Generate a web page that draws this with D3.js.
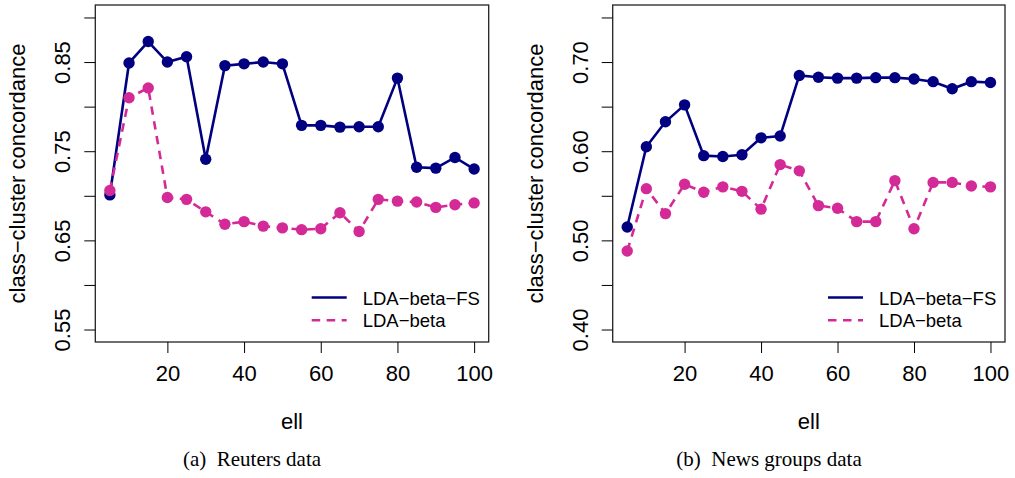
<!DOCTYPE html>
<html>
<head>
<meta charset="utf-8">
<script src="https://cdn.jsdelivr.net/npm/d3@7"></script>
<style>
  body { margin: 0; background: #fff; }
  text { font-family: "Liberation Sans", Arial, Helvetica, sans-serif; fill: #000; }
  .caption { font-family: "Liberation Serif", "Times New Roman", serif; }
</style>
</head>
<body>
<script>
var svgWidth = 1015;
var svgHeight = 478;

// ell values (x axis)
var ellValues = [5, 10, 15, 20, 25, 30, 35, 40, 45, 50, 55, 60, 65, 70, 75, 80, 85, 90, 95, 100];

// Reuters data
var reutersFS   = [0.701, 0.849, 0.873, 0.850, 0.856, 0.741, 0.846, 0.848, 0.850, 0.848,
                   0.779, 0.779, 0.777, 0.7775, 0.7775, 0.832, 0.732, 0.731, 0.743, 0.730];
var reutersBeta = [0.706, 0.810, 0.821, 0.698, 0.696, 0.682, 0.668, 0.671, 0.666, 0.664,
                   0.662, 0.663, 0.681, 0.660, 0.696, 0.694, 0.693, 0.687, 0.690, 0.692];

// News groups data
var newsFS   = [0.515, 0.605, 0.633, 0.652, 0.595, 0.594, 0.596, 0.615, 0.617, 0.685,
                0.683, 0.682, 0.682, 0.6825, 0.6825, 0.681, 0.678, 0.670, 0.678, 0.677];
var newsBeta = [0.488, 0.558, 0.530, 0.563, 0.554, 0.560, 0.555, 0.535, 0.585, 0.578,
                0.539, 0.536, 0.521, 0.521, 0.567, 0.513, 0.565, 0.565, 0.561, 0.560];

// ticks
var xTicks = [20, 40, 60, 80, 100];
var reutersYTicks = [0.55, 0.60, 0.65, 0.70, 0.75, 0.80, 0.85, 0.90];
var reutersYLabels = [0.55, 0.65, 0.75, 0.85];
var newsYTicks = [0.40, 0.45, 0.50, 0.55, 0.60, 0.65, 0.70, 0.75];
var newsYLabels = [0.40, 0.50, 0.60, 0.70];

var seriesNames = ["LDA\u2212beta\u2212FS", "LDA\u2212beta"];
var captions = ["(a)  Reuters data", "(b)  News groups data"];

var colorFS = "#000080";
var colorBeta = "#D42A98";

var svg = d3.select("body").append("svg")
    .attr("width", svgWidth)
    .attr("height", svgHeight);

var panels = [
    { left: 95.3, right: 488.7, fs: reutersFS, beta: reutersBeta, yDomain: [0.55, 0.90],
      yTicks: reutersYTicks, yLabels: reutersYLabels, caption: captions[0], captionX: 252 },
    { left: 612.7, right: 1005, fs: newsFS, beta: newsBeta, yDomain: [0.40, 0.75],
      yTicks: newsYTicks, yLabels: newsYLabels, caption: captions[1], captionX: 769 }
];

var plotTop = 5, plotBottom = 342;

// R style 4% axis extension
function extend(domain) {
    var pad = (domain[1] - domain[0]) * 0.04;
    return [domain[0] - pad, domain[1] + pad];
}

panels.forEach(function(p) {
    var g = svg.append("g");

    var x = d3.scaleLinear().domain(extend(d3.extent(ellValues))).range([p.left, p.right]);
    var y = d3.scaleLinear().domain(extend(p.yDomain)).range([plotBottom, plotTop]);

    // box
    g.append("rect")
        .attr("x", p.left).attr("y", plotTop)
        .attr("width", p.right - p.left).attr("height", plotBottom - plotTop)
        .attr("fill", "none").attr("stroke", "#222").attr("stroke-width", 1.3);

    // x axis
    var xAxis = d3.axisBottom(x).tickValues(xTicks).tickSize(11).tickPadding(7)
        .tickFormat(d3.format("d"));
    var gx = g.append("g").attr("transform", "translate(0," + plotBottom + ")").call(xAxis);
    gx.select(".domain").remove();
    gx.selectAll("line").attr("stroke", "#000").attr("stroke-width", 1);
    gx.selectAll("text").attr("font-size", 22)
        .attr("font-family", "Liberation Sans, Arial, sans-serif")
        .attr("dy", null).attr("y", 39);

    // y axis ticks
    var yAxis = d3.axisLeft(y).tickValues(p.yTicks).tickSize(11)
        .tickFormat(function(d) {
            return p.yLabels.some(function(v) { return Math.abs(v - d) < 1e-9; }) ? d3.format(".2f")(d) : "";
        });
    var gy = g.append("g").attr("transform", "translate(" + p.left + ",0)").call(yAxis);
    gy.select(".domain").remove();
    gy.selectAll("line").attr("stroke", "#000").attr("stroke-width", 1);
    gy.selectAll(".tick text")
        .attr("font-size", 22)
        .attr("font-family", "Liberation Sans, Arial, sans-serif")
        .attr("text-anchor", "middle")
        .attr("x", null).attr("dy", null)
        .attr("transform", "translate(-25,0) rotate(-90)")
        .attr("y", 0);

    // axis titles
    g.append("text")
        .attr("transform", "translate(" + (p.left - 70) + "," + ((plotTop + plotBottom) / 2) + ") rotate(-90)")
        .attr("text-anchor", "middle").attr("font-size", 22)
        .text("class\u2212cluster concordance");

    g.append("text")
        .attr("x", (p.left + p.right) / 2).attr("y", plotBottom + 87)
        .attr("text-anchor", "middle").attr("font-size", 22)
        .text("ell");

    // lines and points
    var line = d3.line()
        .x(function(d, i) { return x(ellValues[i]); })
        .y(function(d) { return y(d); });

    var series = [
        { values: p.fs, color: colorFS, dash: null },
        { values: p.beta, color: colorBeta, dash: "8.5,6.5" }
    ];

    series.forEach(function(s) {
        g.append("path")
            .datum(s.values)
            .attr("d", line)
            .attr("fill", "none")
            .attr("stroke", s.color)
            .attr("stroke-width", 2.6)
            .attr("stroke-dasharray", s.dash);

        g.selectAll(null)
            .data(s.values)
            .enter().append("circle")
            .attr("cx", function(d, i) { return x(ellValues[i]); })
            .attr("cy", function(d) { return y(d); })
            .attr("r", 5.7)
            .attr("fill", s.color);
    });

    // legend (no box)
    var legX = p.right - 177;
    series.forEach(function(s, i) {
        var ly = 297.5 + i * 22.8;
        g.append("line")
            .attr("x1", legX).attr("x2", legX + 35)
            .attr("y1", ly).attr("y2", ly)
            .attr("stroke", s.color).attr("stroke-width", 2.6)
            .attr("stroke-dasharray", s.dash);
        g.append("text")
            .attr("x", legX + 51).attr("y", ly + 7)
            .attr("font-size", 18.5)
            .text(seriesNames[i]);
    });

    // caption
    g.append("text")
        .attr("class", "caption")
        .attr("x", p.captionX).attr("y", 466)
        .attr("text-anchor", "middle").attr("font-size", 21)
        .style("white-space", "pre")
        .text(p.caption);
});
</script>
</body>
</html>
